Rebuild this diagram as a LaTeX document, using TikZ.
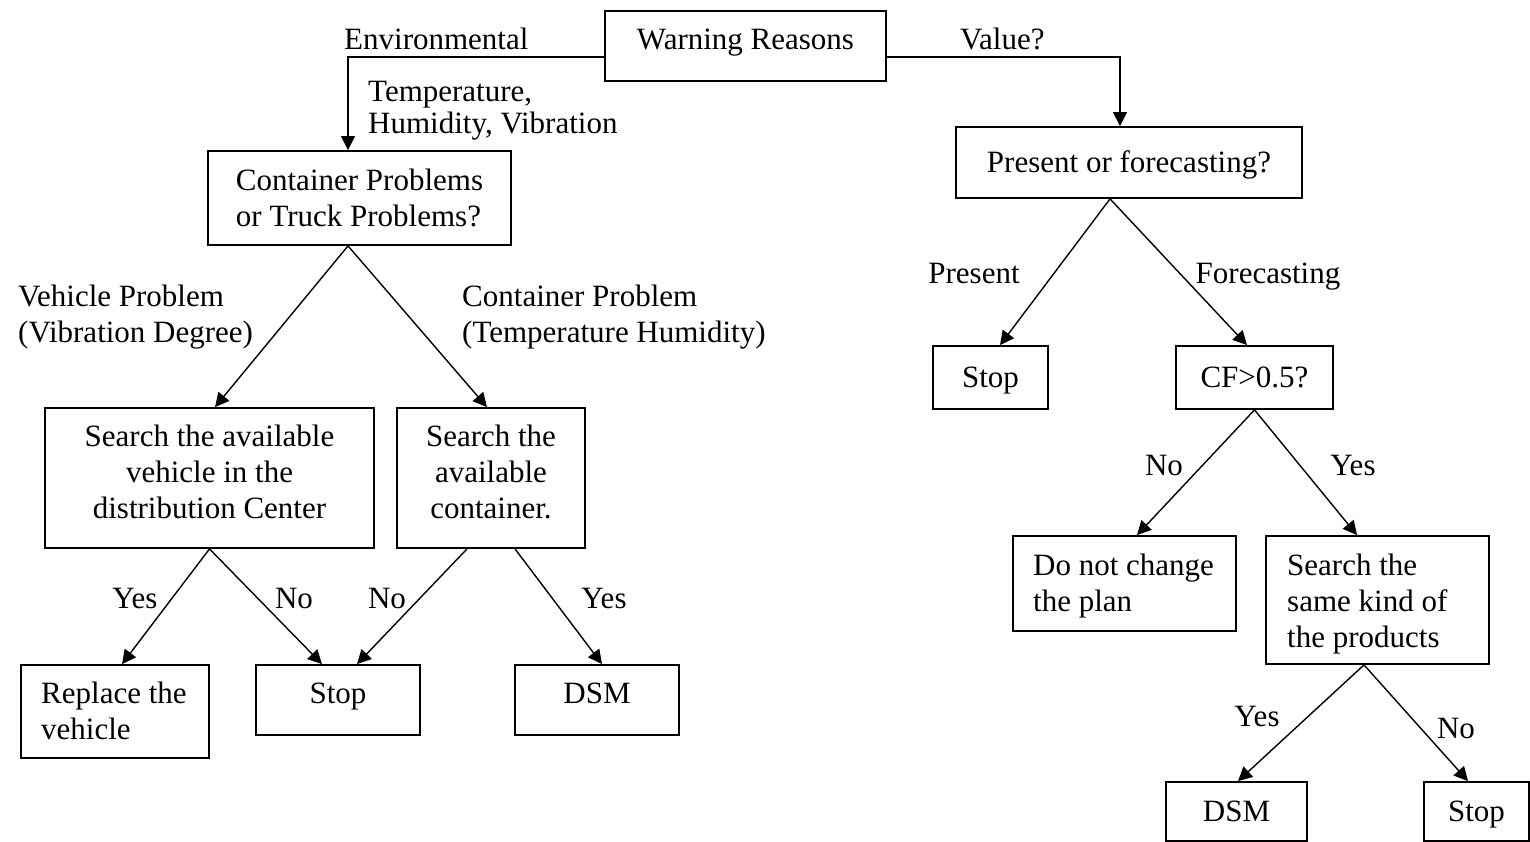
\documentclass[tikz,border=0pt]{standalone}
\usepackage{fontspec}
\setmainfont{Liberation Serif}
\usetikzlibrary{arrows.meta}
\begin{document}
\begin{tikzpicture}[x=1pt,y=-1pt,
  every node/.style={font=\fontsize{31}{36}\selectfont, inner sep=0pt},
  box/.style={draw, line width=1.8pt, inner xsep=20pt, inner ysep=0pt},
  onetext/.style={text height=21pt, text depth=1pt},
  boxtext/.style={align=#1},
  link/.style={line width=1.4pt, -{Triangle[length=14pt,width=14pt]}},
  lbl/.style={text height=21pt, text depth=1pt}]
\useasboundingbox (0,0) rectangle (1530,842);

% decision boxes
\node[box, minimum width=281pt, minimum height=70pt, text height=21pt, text depth=13pt] (warn) at (745.5,46) {Warning Reasons};
\node[box, align=left, minimum width=303pt, minimum height=94pt] (cont) at (359.5,198) {Container Problems\\or Truck Problems?};
\node[box, onetext, minimum width=346pt, minimum height=71pt] (pres) at (1129,162.5) {Present or forecasting?};
\node[box, minimum width=329pt, minimum height=140pt] (sveh) at (209.5,478) {};
\node[boxtext=center] (svehtxt) at (209.5,472) {Search the available\\vehicle in the\\distribution Center};
\node[box, minimum width=188pt, minimum height=140pt] (scon) at (491,478) {};
\node[boxtext=center] (scontxt) at (491,472) {Search the\\available\\container.};
\node[box, minimum width=188pt, minimum height=93pt] (repl) at (115,711.5) {};
\node[boxtext=left, anchor=west] (repltxt) at (41,711) {Replace the\\vehicle};
\node[box, minimum width=164pt, minimum height=70pt, text height=21pt, text depth=15pt] (stopA) at (338,700) {Stop};
\node[box, minimum width=164pt, minimum height=70pt, text height=21pt, text depth=15pt] (dsmA) at (597,700) {DSM};
\node[box, onetext, minimum width=115pt, minimum height=63pt] (stopB) at (990.5,377.5) {Stop};
\node[box, onetext, minimum width=157pt, minimum height=63pt] (cf) at (1254.5,377.5) {CF>0.5?};
\node[box, minimum width=223pt, minimum height=95pt] (nochg) at (1124.5,583.5) {};
\node[boxtext=left, anchor=west] (nochgtxt) at (1033,586.5) {Do not change\\the plan};
\node[box, minimum width=223pt, minimum height=128pt] (ssame) at (1377.5,600) {};
\node[boxtext=left, anchor=west] (ssametxt) at (1287,604) {Search the\\same kind of\\the products};
\node[box, onetext, minimum width=141pt, minimum height=59pt] (dsmB) at (1236.5,811.5) {DSM};
\node[box, onetext, minimum width=105pt, minimum height=59pt] (stopC) at (1476.5,811.5) {Stop};

% branch labels
\node[lbl, anchor=west] (envl) at (344,40) {Environmental};
\node[lbl, anchor=west] (valuel) at (960,40) {Value?};
\node[anchor=west, align=left, font=\fontsize{31}{32}\selectfont] (envpar) at (368,110.5) {Temperature,\\Humidity, Vibration};
\node[anchor=west, align=left] (vehl) at (18,317.5) {Vehicle Problem\\(Vibration Degree)};
\node[anchor=west, align=left] (conl) at (462,317.5) {Container Problem\\(Temperature Humidity)};
\node[lbl] (yesA) at (135,598) {Yes};
\node[lbl] (noA) at (294,598) {No};
\node[lbl] (noB) at (387,598) {No};
\node[lbl] (yesB) at (604,598) {Yes};
\node[lbl] (presl) at (974,273) {Present};
\node[lbl] (forel) at (1268,273) {Forecasting};
\node[lbl] (noC) at (1164,465) {No};
\node[lbl] (yesC) at (1353,465) {Yes};
\node[lbl] (yesD) at (1257,716) {Yes};
\node[lbl] (noD) at (1456,728) {No};

% connectors
\draw[link] ([yshift=-11pt]warn.west) -| ([xshift=-11.5pt]cont.north);
\draw[link] ([yshift=-11pt]warn.east) -| ([xshift=-9pt]pres.north);
\draw[link] ([xshift=-11.5pt]cont.south) -- ([xshift=5.5pt]sveh.north);
\draw[link] ([xshift=-11.5pt]cont.south) -- ([xshift=-4pt]scon.north);
\draw[link] (sveh.south) -- ([xshift=7pt]repl.north);
\draw[link] (sveh.south) -- ([xshift=-16pt]stopA.north);
\draw[link] ([xshift=-24pt]scon.south) -- ([xshift=19pt]stopA.north);
\draw[link] ([xshift=24pt]scon.south) -- ([xshift=5pt]dsmA.north);
\draw[link] ([xshift=-19pt]pres.south) -- ([xshift=9.5pt]stopB.north);
\draw[link] ([xshift=-19pt]pres.south) -- ([xshift=-7.5pt]cf.north);
\draw[link] (cf.south) -- ([xshift=12.5pt]nochg.north);
\draw[link] (cf.south) -- ([xshift=-20.5pt]ssame.north);
\draw[link] ([xshift=-13.5pt]ssame.south) -- ([xshift=1.5pt]dsmB.north);
\draw[link] ([xshift=-13.5pt]ssame.south) -- ([xshift=-8.5pt]stopC.north);
\end{tikzpicture}
\end{document}
